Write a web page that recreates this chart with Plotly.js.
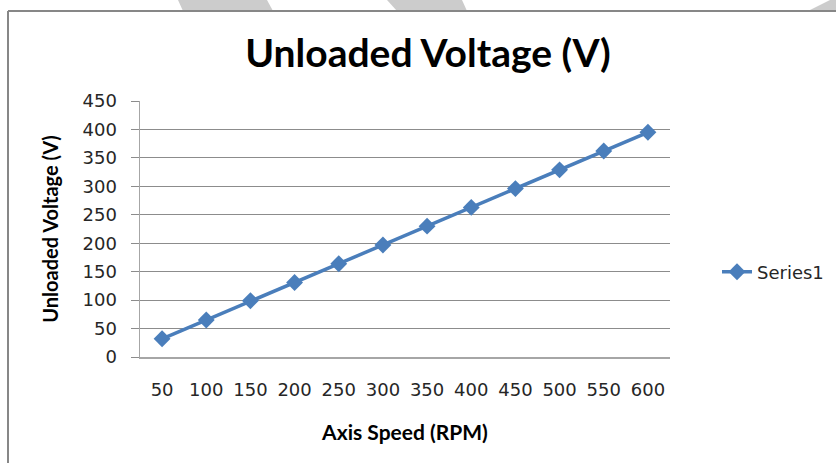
<!DOCTYPE html>
<html>
<head>
<meta charset="utf-8">
<script src="https://cdn.plot.ly/plotly-3.0.1.min.js"></script>
<style>html,body{margin:0;padding:0;background:#fff;}#chart{width:836px;height:463px;}</style>
</head>
<body>
<div id="chart"></div>
<script>
// Data
var speedLabels = ["50","100","150","200","250","300","350","400","450","500","550","600"];
var voltage = [32, 65, 99, 131, 164, 197, 230, 263, 296, 329, 362, 395];
var seriesName = "Series1";

// Layout geometry (pixels)
var W = 836, H = 463;
var L = 140, R = 670, T = 101, B = 357;
function px(x){ return (x - L) / (R - L); }
function py(y){ return (B - y) / (B - T); }
function poly(pts){
  return 'M' + pts.map(function(p){ return px(p[0]) + ',' + py(p[1]); }).join(' L') + ' Z';
}

var shapes = [
  // watermark stripes at top
  {type:'path', xref:'paper', yref:'paper', path: poly([[178,0],[267,0],[273,11],[183,11]]), fillcolor:'#cccccc', line:{width:0}, layer:'below'},
  {type:'path', xref:'paper', yref:'paper', path: poly([[387,0],[462,0],[467,11],[397,11]]), fillcolor:'#cccccc', line:{width:0}, layer:'below'},
  {type:'path', xref:'paper', yref:'paper', path: poly([[830,0],[836,0],[836,11],[808,11]]), fillcolor:'#cccccc', line:{width:0}, layer:'below'},
  // chart area border (top and left)
  {type:'line', xref:'paper', yref:'paper', x0: px(8), x1: px(840), y0: py(11), y1: py(11), line:{color:'#878787', width:2}},
  {type:'line', xref:'paper', yref:'paper', x0: px(8), x1: px(8), y0: py(11), y1: py(470), line:{color:'#878787', width:2}}
];

var trace = {
  x: speedLabels,
  y: voltage,
  type: 'scatter',
  mode: 'lines+markers',
  name: seriesName,
  line: {color:'#4a7ebb', width:3.5},
  marker: {symbol:'diamond', size:13, color:'#4a7ebb'}
};

var tickFont = {family:'DejaVu Sans', size:18, color:'#262626'};

var layout = {
  width: W, height: H,
  margin: {l: L, r: W - R, t: T, b: H - B, pad: 0},
  paper_bgcolor:'#ffffff', plot_bgcolor:'#ffffff',
  showlegend: true,
  title: {
    text: '<b>Unloaded Voltage (V)</b>',
    font: {family:'Lato', size:39, color:'#000000'},
    xref:'container', yref:'container',
    x: 428/W, y: 1 - 53/H, xanchor:'center', yanchor:'middle'
  },
  xaxis: {
    type:'category',
    range:[-0.5, 11.5],
    showgrid:false,
    showline:true, linecolor:'#a6a6a6', linewidth:1.5,
    ticks:'', tickfont: tickFont,
    ticklabelstandoff: 16,
    zeroline:false,
    title: {text:'<b>Axis Speed (RPM)</b>', font:{family:'Lato', size:21, color:'#000'}, standoff: 26}
  },
  yaxis: {
    range:[0, 450],
    dtick: 50, tick0: 0,
    showgrid:true, gridcolor:'#8c8c8c', gridwidth:1,
    showline:true, linecolor:'#a6a6a6', linewidth:1.5,
    ticks:'outside', ticklen:8, tickcolor:'#8c8c8c', tickwidth:1,
    tickfont: tickFont,
    ticklabelstandoff: 10,
    zeroline:false,
    title: {text:'<b>Unloaded Voltage (V)</b>', font:{family:'Lato', size:20, color:'#000'}, standoff: 18}
  },
  legend: {
    xref:'container', yref:'container',
    x: 717/W, y: 1 - 272/H, xanchor:'left', yanchor:'middle',
    font: tickFont, bgcolor:'rgba(0,0,0,0)', borderwidth:0
  },
  shapes: shapes
};

Plotly.newPlot('chart', [trace], layout, {displayModeBar:false, staticPlot:true});
</script>
</body>
</html>
